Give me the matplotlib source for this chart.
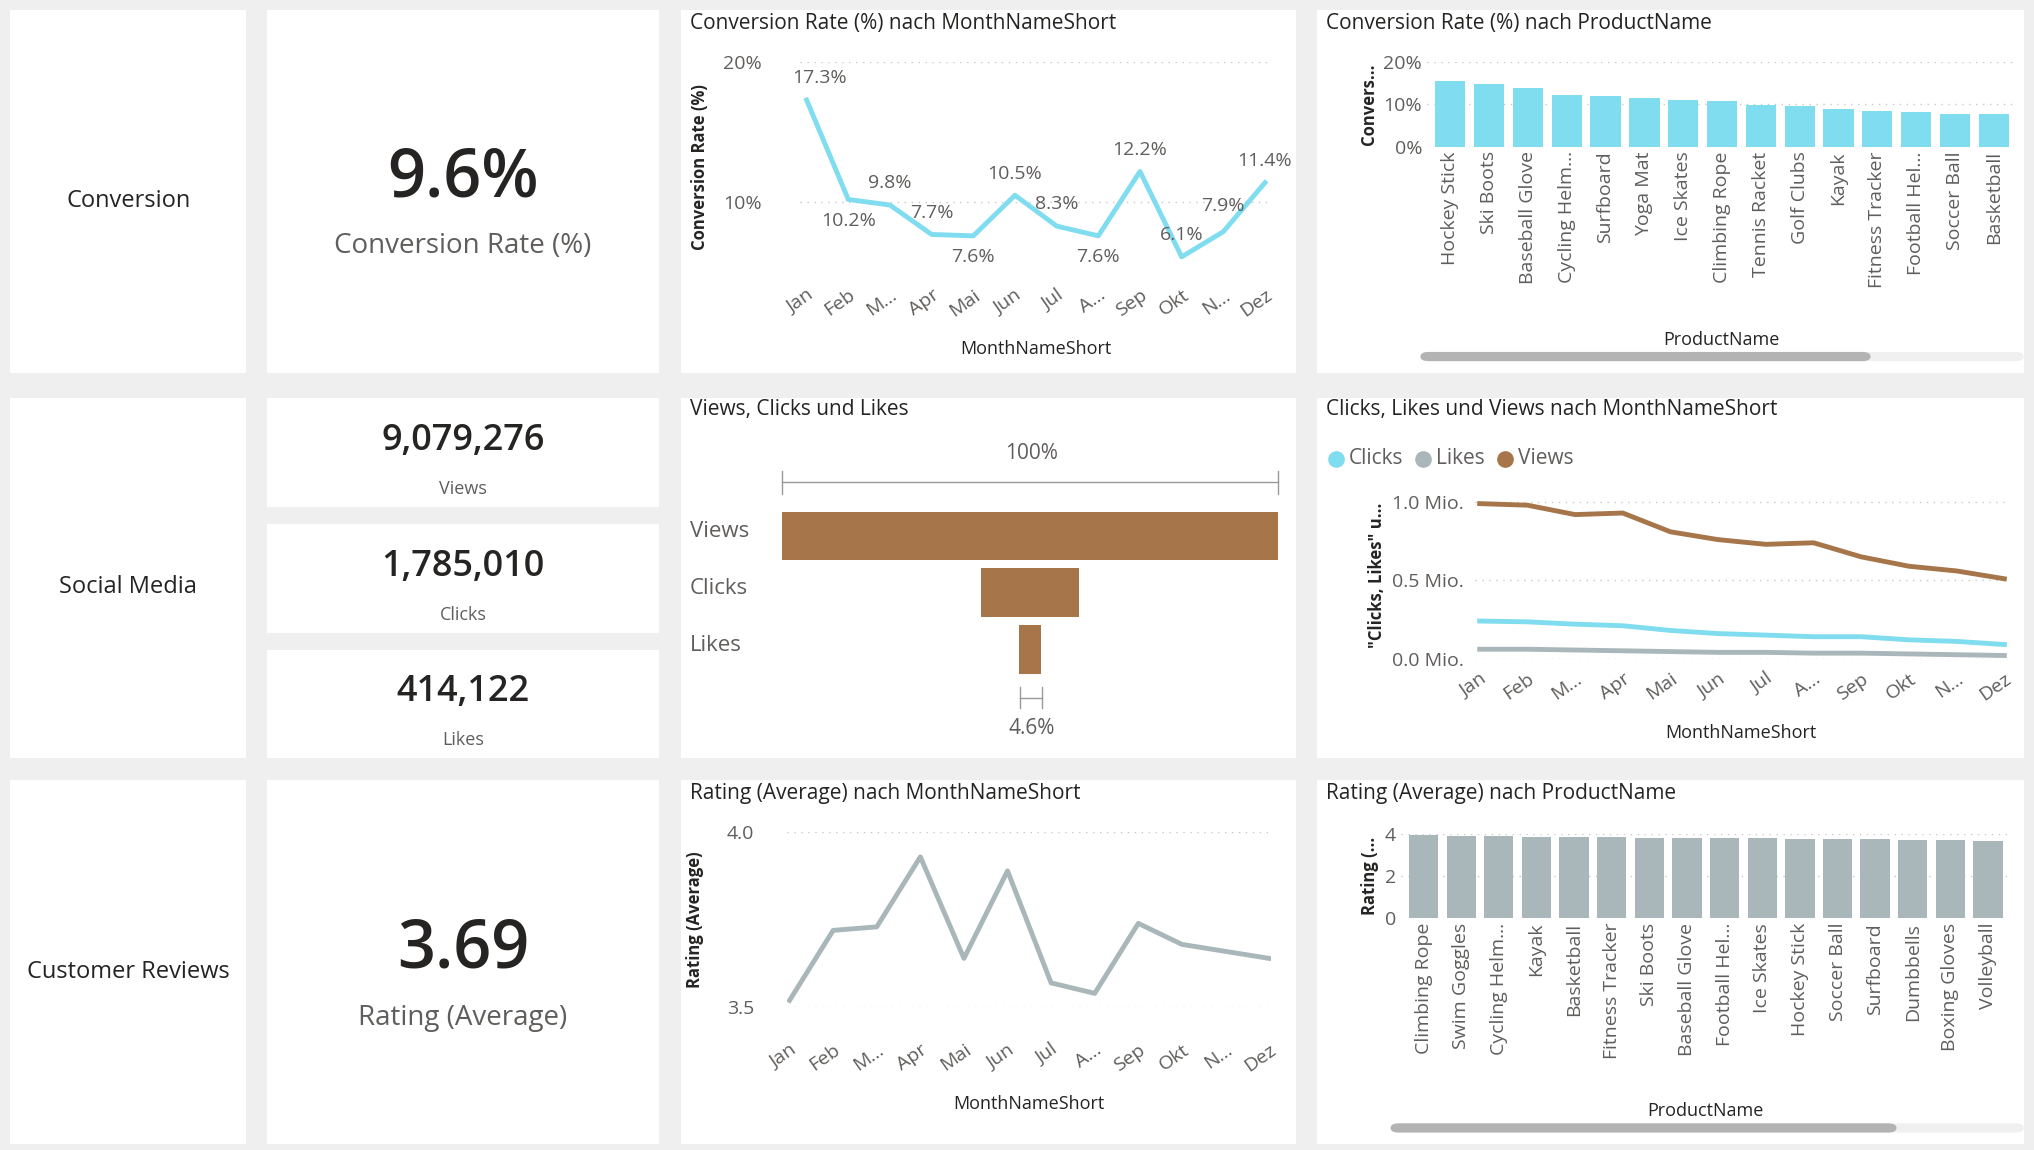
import matplotlib
matplotlib.use("Agg")
import matplotlib.pyplot as plt
from matplotlib.patches import FancyBboxPatch, Rectangle
import numpy as np

plt.rcParams['font.family'] = ['Open Sans', 'DejaVu Sans']

# ---- data ----
months = ["Jan", "Feb", "M...", "Apr", "Mai", "Jun", "Jul", "A...", "Sep", "Okt", "N...", "Dez"]
conv_month = [17.3, 10.2, 9.8, 7.7, 7.6, 10.5, 8.3, 7.6, 12.2, 6.1, 7.9, 11.4]

conv_prod_names = ["Hockey Stick", "Ski Boots", "Baseball Glove", "Cycling Helm...", "Surfboard",
                   "Yoga Mat", "Ice Skates", "Climbing Rope", "Tennis Racket", "Golf Clubs",
                   "Kayak", "Fitness Tracker", "Football Hel...", "Soccer Ball", "Basketball"]
conv_prod = [15.5, 14.8, 13.9, 12.2, 12.1, 11.6, 11.0, 10.9, 9.9, 9.7, 8.9, 8.5, 8.3, 7.8, 7.6]

funnel_labels = ["Views", "Clicks", "Likes"]
funnel_vals = [9079276, 1785010, 414122]

views_m = [0.99, 0.98, 0.92, 0.93, 0.81, 0.76, 0.73, 0.74, 0.65, 0.59, 0.56, 0.51]
clicks_m = [0.24, 0.235, 0.22, 0.21, 0.18, 0.16, 0.15, 0.14, 0.14, 0.12, 0.11, 0.09]
likes_m = [0.06, 0.06, 0.055, 0.05, 0.045, 0.04, 0.04, 0.035, 0.035, 0.03, 0.025, 0.02]

rating_month = [3.52, 3.72, 3.73, 3.93, 3.64, 3.89, 3.57, 3.54, 3.74, 3.68, 3.66, 3.64]

rating_prod_names = ["Climbing Rope", "Swim Goggles", "Cycling Helm...", "Kayak", "Basketball",
                     "Fitness Tracker", "Ski Boots", "Baseball Glove", "Football Hel...", "Ice Skates",
                     "Hockey Stick", "Soccer Ball", "Surfboard", "Dumbbells", "Boxing Gloves", "Volleyball"]
rating_prod = [3.95, 3.90, 3.87, 3.86, 3.86, 3.85, 3.81, 3.80, 3.79, 3.77, 3.76, 3.76, 3.74, 3.72, 3.70, 3.66]

# ---- style ----
CYAN, BROWN, GRAY = "#80DCEF", "#A6764A", "#AAB7BA"
TXT, DARK = "#605E5C", "#252423"
W, H = 1568, 887  # layout grid (scaled to output)

fig = plt.figure(figsize=(20.34, 11.5), dpi=100, facecolor="#EFEFEF")

def fx(x): return x / W
def fy(y): return 1 - y / H

def panel(x0, y0, x1, y1):
    fig.patches.append(Rectangle((fx(x0), fy(y1)), fx(x1 - x0), (y1 - y0) / H,
                                 transform=fig.transFigure, fc="white", ec="none", zorder=-10))

def axes(x0, y0, x1, y1):
    ax = fig.add_axes([fx(x0), fy(y1), fx(x1 - x0), (y1 - y0) / H])
    ax.set_zorder(5)
    ax.set_facecolor("none")
    for s in ax.spines.values():
        s.set_visible(False)
    ax.tick_params(length=0, colors=TXT, labelsize=14)
    return ax

def text(x, y, s, **kw):
    kw.setdefault("color", DARK)
    fig.text(fx(x), fy(y), s, zorder=6, **kw)

def line(xs, ys):
    fig.add_artist(plt.Line2D([fx(v) for v in xs], [fy(v) for v in ys], color="#999999", lw=1, zorder=6))

def scrollbar(x0, x1, xt, y):
    fig.patches.append(FancyBboxPatch((fx(x0), fy(y) - 0.004), fx(x1 - x0), 0.008,
                       boxstyle="round,pad=0,rounding_size=0.004", transform=fig.transFigure,
                       fc="#F0F0F0", ec="none", zorder=1))
    fig.patches.append(FancyBboxPatch((fx(x0), fy(y) - 0.004), fx(xt - x0), 0.008,
                       boxstyle="round,pad=0,rounding_size=0.004", transform=fig.transFigure,
                       fc="#B3B3B3", ec="none", zorder=2))

for (y0, y1) in [(8, 288), (307, 585), (602, 882)]:
    panel(8, y0, 190, y1)
    panel(525, y0, 999, y1)
    panel(1015, y0, 1560, y1)
panel(206, 8, 508, 288)
panel(206, 602, 508, 882)
for (y0, y1) in [(307, 391), (404, 488), (501, 585)]:
    panel(206, y0, 508, y1)

# left labels
text(99, 155, "Conversion", ha="center", va="center", fontsize=17)
text(99, 453, "Social Media", ha="center", va="center", fontsize=17)
text(99, 750, "Customer Reviews", ha="center", va="center", fontsize=17)

# KPI cards
text(357, 138, "9.6%", ha="center", va="center", fontsize=48, fontweight="semibold")
text(357, 190, "Conversion Rate (%)", ha="center", va="center", fontsize=20, color=TXT)
text(357, 733, "3.69", ha="center", va="center", fontsize=48, fontweight="semibold")
text(357, 785, "Rating (Average)", ha="center", va="center", fontsize=20, color=TXT)
for yc, v, lab in [(340, funnel_vals[0], "Views"), (437, funnel_vals[1], "Clicks"), (534, funnel_vals[2], "Likes")]:
    text(357, yc, f"{v:,}", ha="center", va="center", fontsize=26, fontweight="semibold")
    text(357, yc + 37, lab, ha="center", va="center", fontsize=13, color=TXT)

def grid(ax):
    ax.yaxis.grid(True, color="#C8C8C8", linestyle=(0, (1, 4)), linewidth=1)
    ax.set_axisbelow(True)

def month_ticks(ax):
    ax.set_xticks(range(12))
    ax.set_xticklabels(months, rotation=35, ha="right", rotation_mode="anchor")

x = np.arange(12)

# Conversion by month
text(532, 18, "Conversion Rate (%) nach MonthNameShort", va="center", fontsize=15)
ax = axes(617, 48, 980, 210)
ax.plot(x, conv_month, color=CYAN, lw=3.5)
ax.set_ylim(5, 20); ax.set_xlim(-0.15, 11.15)
ax.set_yticks([10, 20]); ax.set_yticklabels(["10%", "20%"])
ax.tick_params(axis="y", pad=28)
grid(ax); month_ticks(ax)
ax.tick_params(axis="x", pad=10)
dys = [0.9, -0.9, 0.9, 0.9, -0.9, 0.9, 0.9, -0.9, 0.9, 0.9, 1.2, 0.9]
for i, v in enumerate(conv_month):
    dy = dys[i]
    ax.annotate(f"{v}%", (i + (0.3 if i == 0 else 0), v + dy), ha="center",
                va="bottom" if dy > 0 else "top", fontsize=14, color=TXT)
ax.set_xlabel("MonthNameShort", fontsize=13, color=DARK, labelpad=14)
ax.set_ylabel("Conversion Rate (%)", fontsize=12, color=DARK, labelpad=10, fontweight="bold")

# Conversion by product
text(1022, 18, "Conversion Rate (%) nach ProductName", va="center", fontsize=15)
ax = axes(1100, 48, 1555, 113)
ax.bar(range(len(conv_prod)), conv_prod, width=0.78, color=CYAN)
ax.set_ylim(0, 20); ax.set_xlim(-0.6, len(conv_prod) - 0.4)
ax.set_yticks([0, 10, 20]); ax.set_yticklabels(["0%", "10%", "20%"])
ax.set_xticks(range(len(conv_prod))); ax.set_xticklabels(conv_prod_names, rotation=90)
grid(ax)
ax.set_ylabel("Convers...", fontsize=12, color=DARK, fontweight="bold")
text(1327, 262, "ProductName", ha="center", va="center", fontsize=13)
scrollbar(1095, 1560, 1442, 275)

# Funnel
text(532, 316, "Views, Clicks und Likes", va="center", fontsize=15)
ax = axes(603, 385, 985, 525)
mx = funnel_vals[0]
lefts = [(mx - v) / 2 for v in funnel_vals]
ax.barh(range(3), funnel_vals, left=lefts, height=0.86, color=BROWN)
ax.set_ylim(2.55, -0.65); ax.set_xlim(0, mx)
ax.set_xticks([]); ax.set_yticks([])
for i, lab in enumerate(funnel_labels):
    text(532, [410, 454, 498][i], lab, va="center", fontsize=16, color=TXT)
text(795, 350, "100%", ha="center", va="center", fontsize=15, color=TXT)
line([603, 985], [372, 372])
for xx in (603, 985):
    line([xx, xx], [363, 381])
line([786, 803], [538, 538])
for xx in (786, 803):
    line([xx, xx], [530, 546])
text(795, 562, f"{funnel_vals[2] / mx * 100:.1f}%", ha="center", va="center", fontsize=15, color=TXT)

# Clicks, Likes, Views by month
text(1022, 316, "Clicks, Likes und Views nach MonthNameShort", va="center", fontsize=15)
for xx, lab, c in [(1030, "Clicks", CYAN), (1097, "Likes", GRAY), (1160, "Views", BROWN)]:
    fig.add_artist(plt.Line2D([fx(xx)], [fy(354)], marker="o", ms=11, color=c, zorder=6))
    text(xx + 10, 354, lab, va="center", fontsize=15, color=TXT)
ax = axes(1137, 380, 1547, 508)
ax.plot(x, views_m, color=BROWN, lw=3.5)
ax.plot(x, clicks_m, color=CYAN, lw=3.5)
ax.plot(x, likes_m, color=GRAY, lw=3.5)
ax.set_ylim(0, 1.06); ax.set_xlim(-0.1, 11.05)
ax.set_yticks([0, 0.5, 1.0]); ax.set_yticklabels(["0.0 Mio.", "0.5 Mio.", "1.0 Mio."])
ax.tick_params(axis="y", pad=8)
grid(ax); month_ticks(ax)
ax.tick_params(axis="x", pad=8)
ax.set_xlabel("MonthNameShort", fontsize=13, color=DARK, labelpad=14)
ax.set_ylabel('"Clicks, Likes" u...', fontsize=12, color=DARK, fontweight="bold")

# Rating by month
text(532, 612, "Rating (Average) nach MonthNameShort", va="center", fontsize=15)
ax = axes(607, 642, 980, 777)
ax.plot(x, rating_month, color=GRAY, lw=3.5)
ax.set_ylim(3.5, 4.0); ax.set_xlim(-0.05, 11.05)
ax.set_yticks([3.5, 4.0]); ax.set_yticklabels(["3.5", "4.0"])
ax.tick_params(axis="y", pad=24)
grid(ax); month_ticks(ax)
ax.tick_params(axis="x", pad=24)
ax.set_xlabel("MonthNameShort", fontsize=13, color=DARK, labelpad=14)
ax.set_ylabel("Rating (Average)", fontsize=12, color=DARK, fontweight="bold", labelpad=16)

# Rating by product
text(1022, 612, "Rating (Average) nach ProductName", va="center", fontsize=15)
ax = axes(1080, 643, 1550, 708)
ax.bar(range(len(rating_prod)), rating_prod, width=0.78, color=GRAY)
ax.set_ylim(0, 4); ax.set_xlim(-0.6, len(rating_prod) - 0.4)
ax.set_yticks([0, 2, 4])
ax.set_xticks(range(len(rating_prod))); ax.set_xticklabels(rating_prod_names, rotation=90)
grid(ax)
ax.set_ylabel("Rating (...", fontsize=12, color=DARK, fontweight="bold")
text(1315, 857, "ProductName", ha="center", va="center", fontsize=13)
scrollbar(1072, 1560, 1462, 870)

fig.savefig("out.png", dpi=100, facecolor=fig.get_facecolor())
